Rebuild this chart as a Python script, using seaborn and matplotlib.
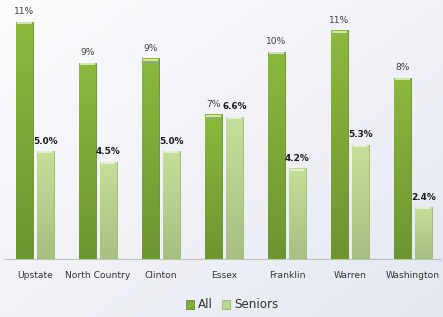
import numpy as np
import pandas as pd
import matplotlib
matplotlib.use("Agg")
import matplotlib.pyplot as plt
import seaborn as sns
from matplotlib.patches import Patch
from matplotlib.colors import LinearSegmentedColormap

regions = ["Upstate", "North Country", "Clinton", "Essex", "Franklin", "Warren", "Washington"]
all_pct = [11.0, 9.1, 9.3, 6.7, 9.6, 10.6, 8.4]
senior_pct = [5.0, 4.5, 5.0, 6.6, 4.2, 5.3, 2.4]
groups = ["All", "Seniors"]

df = pd.DataFrame({
    "Region": regions * 2,
    "Group": ["All"] * len(regions) + ["Seniors"] * len(regions),
    "Pct": all_pct + senior_pct,
})

colors = {"All": "#82ac38", "Seniors": "#bcd78f"}
edges = {"All": "#668a2a", "Seniors": "#9cb575"}
# bottom -> top gradient for each series
grads = {"All": ["#6e9431", "#8ab93d"], "Seniors": ["#a7bf82", "#c5df99"]}

sns.set_style("white")
plt.rcParams['font.family'] = ['DejaVu Sans']

fig = plt.figure(figsize=(4.43, 3.17), dpi=100)

# soft gradient background
bg = fig.add_axes([0, 0, 1, 1], zorder=-10)
yy, xx = np.mgrid[0:1:200j, 0:1:200j]
bg.imshow(0.5 * xx + 0.5 * yy,
          cmap=LinearSegmentedColormap.from_list("bg", ["#fcfcfe", "#e5e8f1"]),
          aspect="auto", extent=[0, 1, 0, 1], origin="upper")
bg.axis("off")

ax = fig.add_axes([4 / 443, 58 / 317, 436 / 443, 259 / 317])
ax.patch.set_alpha(0)

sns.barplot(data=df, x="Region", y="Pct", hue="Group", hue_order=groups,
            palette=colors, saturation=1, width=0.66, gap=0.19, legend=False,
            ax=ax, errorbar=None, linewidth=0)

ax.set_xlim(-0.49, 6.43)
ax.set_ylim(0, 12)

# bar gradients + value labels
for cont, g in zip(ax.containers, groups):
    cmap = LinearSegmentedColormap.from_list(g, grads[g])
    for bar in cont:
        bar.set_edgecolor(edges[g])
        bar.set_linewidth(0.6)
        x0, w, h = bar.get_x(), bar.get_width(), bar.get_height()
        img = ax.imshow(np.linspace(0, 1, 100).reshape(-1, 1), cmap=cmap,
                        aspect="auto", origin="lower",
                        extent=[x0, x0 + w, 0, h], zorder=bar.get_zorder() + 0.1)
        img.set_clip_path(bar)
        # light cap on top
        ax.plot([x0 + w * 0.08, x0 + w * 0.92], [h - 0.06, h - 0.06],
                color="#dff0b8" if g == "All" else "#eaf6d2", lw=1.2,
                zorder=bar.get_zorder() + 0.2, solid_capstyle="butt")
    if g == "All":
        ax.bar_label(cont, fmt="%.0f%%", padding=4, fontsize=6.6, color="#404040")
    else:
        ax.bar_label(cont, fmt="%.1f%%", padding=4, fontsize=6.4,
                     color="#1a1a1a", fontweight="bold")

ax.set_xlim(-0.49, 6.43)
ax.set_ylim(0, 12)
ax.set_xlabel("")
ax.set_ylabel("")
ax.set_yticks([])
ax.tick_params(axis="x", length=0, pad=9, labelsize=6.6, labelcolor="#333333")
for s in ["top", "right", "left"]:
    ax.spines[s].set_visible(False)
ax.spines["bottom"].set_color("#c0c0c0")
ax.spines["bottom"].set_linewidth(0.8)

handles = [Patch(facecolor=colors[g], edgecolor=edges[g], linewidth=0.6) for g in groups]
fig.legend(handles, groups, loc="center", bbox_to_anchor=(232 / 443, 1 - 305 / 317),
           ncol=2, frameon=False, fontsize=8.6, handlelength=0.7, handleheight=0.7,
           handletextpad=0.3, columnspacing=0.8, labelcolor="#333333")

fig.savefig("out.png", dpi=100)
